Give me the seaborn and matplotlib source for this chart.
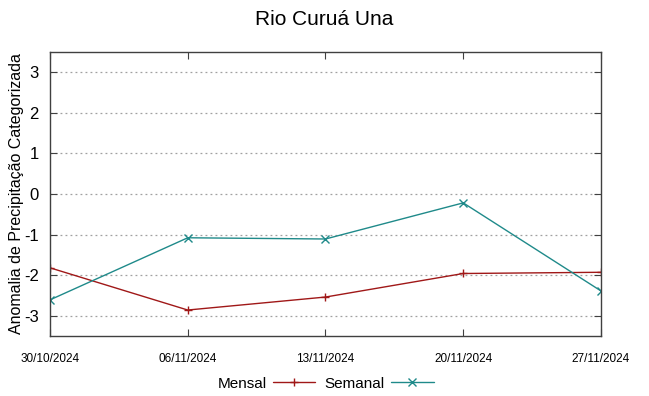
import matplotlib
matplotlib.use("Agg")
import matplotlib.pyplot as plt
import matplotlib.dates as mdates
import seaborn as sns
import pandas as pd

dates = ["2024-10-30", "2024-11-06", "2024-11-13", "2024-11-20", "2024-11-27"]
mensal = [-1.82, -2.86, -2.54, -1.96, -1.93]
semanal = [-2.61, -1.08, -1.11, -0.22, -2.39]
yticks = [-3, -2, -1, 0, 1, 2, 3]

sns.set_style("white")
plt.rcParams['font.family'] = ['Liberation Sans', 'DejaVu Sans']
plt.rcParams['text.color'] = 'black'
plt.rcParams['axes.labelcolor'] = 'black'
plt.rcParams['xtick.color'] = 'black'
plt.rcParams['ytick.color'] = 'black'

dt = pd.to_datetime(dates)
df = pd.DataFrame({"data": list(dt) * 2,
                   "valor": mensal + semanal,
                   "serie": ["Mensal"] * len(dates) + ["Semanal"] * len(dates)})

fig = plt.figure(figsize=(6.49, 3.96), dpi=100)
ax = fig.add_axes([0.077, 0.1515, 0.849, 0.7175])

colors = {"Mensal": "#a01818", "Semanal": "#1f8a8a"}
for name, mk in [("Mensal", "+"), ("Semanal", "x")]:
    sub = df[df["serie"] == name]
    sns.lineplot(data=sub, x="data", y="valor", ax=ax, color=colors[name],
                 marker=mk, markersize=6, markeredgewidth=1.0, linewidth=1.0,
                 label=name, markeredgecolor=colors[name])

ax.set_xlim(dt[0], dt[-1])
ax.set_ylim(-3.5, 3.5)
ax.set_yticks(yticks)
ax.set_yticklabels([str(v) for v in yticks], fontsize=12)
ax.set_xticks(dt)
ax.xaxis.set_major_formatter(mdates.DateFormatter("%d/%m/%Y"))
ax.tick_params(axis="x", labelsize=8.5, pad=12)
ax.tick_params(axis="both", direction="in", length=5, color="#404040",
               top=True, right=True, bottom=True, left=True)
ax.tick_params(axis="y", pad=8)
ax.yaxis.grid(True, linestyle=(0, (1.5, 2.5)), color="#a0a0a0", linewidth=0.9)
ax.xaxis.grid(False)
for s in ax.spines.values():
    s.set_color("#404040")
    s.set_linewidth(1.0)
ax.set_xlabel("")
ax.set_ylabel("Anomalia de Precipitação Categorizada", fontsize=11.5)
ax.yaxis.set_label_coords(-0.047, 0.5)
fig.suptitle("Rio Curuá Una", fontsize=15, y=0.975)

ax.legend(loc="upper center", bbox_to_anchor=(0.5, -0.095), ncol=2, frameon=False,
          markerfirst=False, fontsize=11, handlelength=2.8, columnspacing=0.6,
          handletextpad=0.4)

fig.savefig("out.png", dpi=100)
